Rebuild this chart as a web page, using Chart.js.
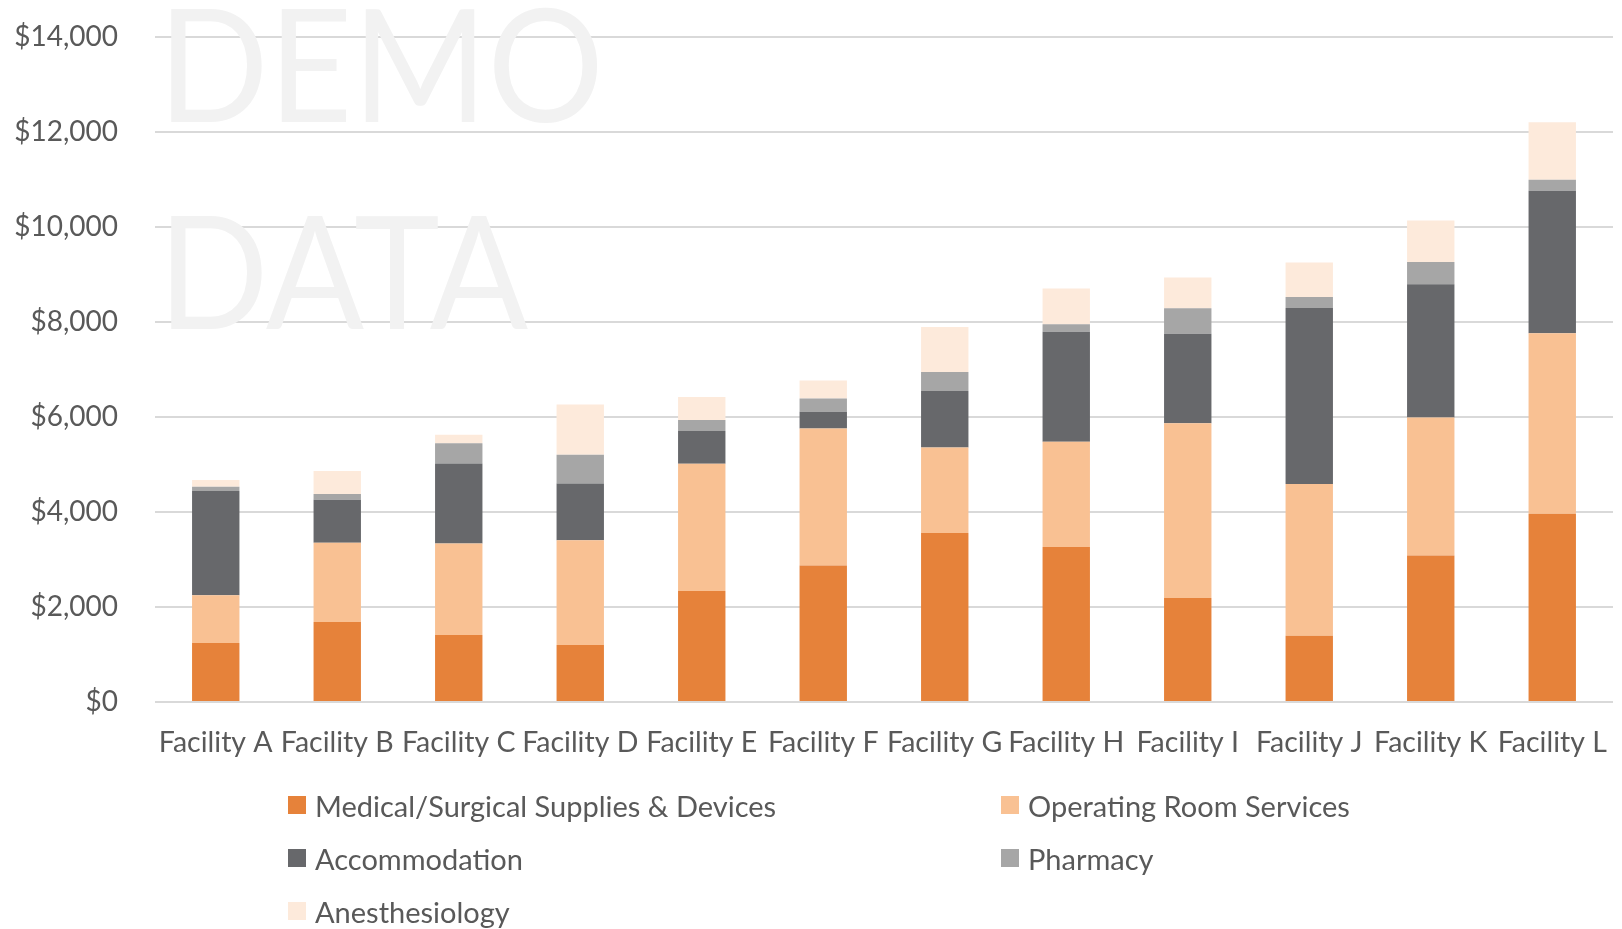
<!DOCTYPE html>
<html>
<head>
<meta charset="utf-8">
<title>Cost by facility</title>
<script src="https://cdn.jsdelivr.net/npm/chart.js@4.4.1/dist/chart.umd.min.js"></script>
<style>
  html, body { margin: 0; padding: 0; background: #fff; }
  #wrap { position: relative; width: 1622px; height: 929px; overflow: hidden; }
  #costChart { position: absolute; left: 0; top: 0; }
  .legend-item {
    position: absolute;
    height: 36px;
    display: flex;
    align-items: center;
    white-space: nowrap;
    font-family: Lato, "Noto Sans", sans-serif;
    font-size: 29px;
    color: #595959;
  }
  .legend-item .box { width: 18px; height: 18px; margin-right: 9px; flex: none; }
</style>
</head>
<body>
<div id="wrap">
  <canvas id="costChart" width="1622" height="929"></canvas>
  <div id="legend"></div>
</div>
<script>
// categories + series
const facilities = [
  "Facility A", "Facility B", "Facility C", "Facility D", "Facility E", "Facility F",
  "Facility G", "Facility H", "Facility I", "Facility J", "Facility K", "Facility L",
];
const medicalSupplies = [1240, 1685, 1410, 1200, 2335, 2875, 3560, 3265, 2190, 1395, 3085, 3965];
const operatingRoom = [1005, 1670, 1925, 2205, 2680, 2885, 1800, 2215, 3680, 3195, 2905, 3800];
const accommodation = [2195, 905, 1685, 1195, 690, 350, 1185, 2315, 1885, 3705, 2805, 3000];
const pharmacy = [92, 120, 430, 605, 230, 280, 400, 160, 535, 230, 470, 230];
const anesthesiology = [140, 485, 175, 1060, 485, 380, 950, 750, 645, 730, 870, 1210];

const seriesNames = [
  "Medical/Surgical Supplies & Devices",
  "Operating Room Services",
  "Accommodation",
  "Pharmacy",
  "Anesthesiology",
];
const seriesColors = ["#E6823A", "#F9C193", "#67686B", "#A6A6A6", "#FDEADB"];

const yMax = 14000;
const yStep = 2000;
const watermarkLines = ["DEMO", "DATA"];

const textColor = "#595959";
const fontFamily = "Lato, 'Noto Sans', sans-serif";

// big faint "DEMO DATA" text behind the bars
const watermarkPlugin = {
  id: "watermark",
  beforeDatasetsDraw(chart) {
    const ctx = chart.ctx;
    ctx.save();
    ctx.fillStyle = "#F2F2F2";
    ctx.font = "158px " + fontFamily;
    ctx.textBaseline = "alphabetic";
    ctx.textAlign = "left";
    const w = ctx.measureText(watermarkLines[0]).width;
    const sx = 446 / w; // squeeze to match the narrow original face
    ctx.translate(158, 0);
    ctx.scale(sx, 1);
    ctx.fillText(watermarkLines[0], 0, 122);
    ctx.fillText(watermarkLines[1], 0, 329);
    ctx.restore();
  },
};

const seriesData = [medicalSupplies, operatingRoom, accommodation, pharmacy, anesthesiology];

const ctx = document.getElementById("costChart").getContext("2d");
const costChart = new Chart(ctx, {
  type: "bar",
  data: {
    labels: facilities,
    datasets: seriesNames.map((name, i) => ({
      label: name,
      data: seriesData[i],
      backgroundColor: seriesColors[i],
      borderWidth: 0,
      barPercentage: 0.39,
      categoryPercentage: 1.0,
    })),
  },
  options: {
    responsive: false,
    animation: false,
    layout: { padding: { top: 37, right: 9, left: 0, bottom: 0 } },
    plugins: {
      legend: { display: false },
      tooltip: { enabled: false },
    },
    scales: {
      x: {
        stacked: true,
        grid: { display: false, drawTicks: false },
        border: { display: false },
        ticks: {
          color: textColor,
          font: { family: fontFamily, size: 28.5 },
          padding: 24,
          autoSkip: false,
          maxRotation: 0,
          minRotation: 0,
        },
        afterFit: (scale) => {
          scale.height = 929 - 702;
          // labels may hang over the ends, the plot keeps its full width
          scale.paddingLeft = 0;
          scale.paddingRight = 0;
        },
      },
      y: {
        stacked: true,
        min: 0,
        max: yMax,
        grid: { color: "#D9D9D9", lineWidth: 2, drawTicks: false },
        border: { display: false },
        ticks: {
          stepSize: yStep,
          color: textColor,
          font: { family: fontFamily, size: 28 },
          padding: 37,
          callback: (v) => "$" + v.toLocaleString("en-US"),
        },
        afterFit: (scale) => {
          scale.width = 155;
          // the big tick padding should not push the plot down
          scale.paddingTop = 0;
          scale.paddingBottom = 0;
        },
      },
    },
  },
  plugins: [watermarkPlugin],
});

// legend: two columns, filled row by row like the original
const legendEl = document.getElementById("legend");
const legendCols = [288, 1001];
const legendRows = [805, 858, 911];
seriesNames.forEach((name, i) => {
  const item = document.createElement("div");
  item.className = "legend-item";
  item.style.left = legendCols[i % 2] + "px";
  item.style.top = (legendRows[Math.floor(i / 2)] - 18) + "px";
  const box = document.createElement("span");
  box.className = "box";
  box.style.background = seriesColors[i];
  const label = document.createElement("span");
  label.textContent = name;
  item.appendChild(box);
  item.appendChild(label);
  legendEl.appendChild(item);
});
</script>
</body>
</html>
